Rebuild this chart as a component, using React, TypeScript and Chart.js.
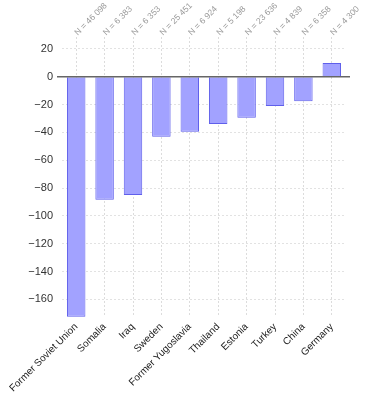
import React, { useEffect, useRef } from "react";
import { Chart, registerables } from "chart.js";

Chart.register(...registerables);

const categories = [
  "Former Soviet Union",
  "Somalia",
  "Iraq",
  "Sweden",
  "Former Yugoslavia",
  "Thailand",
  "Estonia",
  "Turkey",
  "China",
  "Germany",
];
const values = [-172.5, -88.3, -85, -43, -39.5, -34, -29.5, -21, -17.5, 10];
const nLabels = [
  "N = 46 098",
  "N = 6 383",
  "N = 6 353",
  "N = 25 451",
  "N = 6 924",
  "N = 5 198",
  "N = 23 636",
  "N = 4 839",
  "N = 6 358",
  "N = 4 300",
];
const yTicks = [20, 0, -20, -40, -60, -80, -100, -120, -140, -160];

const FONT = "'Liberation Sans', Arial, Helvetica, sans-serif";

const extras = {
  id: "extras",
  afterDatasetsDraw(chart: any) {
    const { ctx, chartArea, scales } = chart;
    const y = scales.y.getPixelForValue(0);
    ctx.save();
    ctx.strokeStyle = "#666";
    ctx.lineWidth = 1.5;
    ctx.beginPath();
    ctx.moveTo(chartArea.left - 5, y);
    ctx.lineTo(chartArea.right + 4, y);
    ctx.stroke();
    ctx.fillStyle = "#999";
    ctx.font = `8.5px ${FONT}`;
    ctx.textAlign = "left";
    ctx.textBaseline = "middle";
    nLabels.forEach((t, i) => {
      const x = scales.x.getPixelForValue(i);
      ctx.save();
      ctx.translate(x, chartArea.top - 3);
      ctx.rotate(-Math.PI / 4);
      ctx.fillText(t, 0, 0);
      ctx.restore();
    });
    ctx.restore();
  },
};

export default function App() {
  const ref = useRef<HTMLCanvasElement>(null);
  useEffect(() => {
    if (!ref.current) return;
    const chart = new Chart(ref.current, {
      type: "bar",
      data: {
        labels: categories,
        datasets: [
          {
            data: values,
            backgroundColor: "rgba(162,162,255,1)",
            borderColor: "rgba(95,95,235,1)",
            borderWidth: 1,
            categoryPercentage: 1,
            barPercentage: 0.65,
          },
        ],
      },
      options: {
        animation: false,
        responsive: false,
        maintainAspectRatio: false,
        layout: { padding: { left: 0, right: 19, top: 37, bottom: 0 } },
        plugins: { legend: { display: false }, tooltip: { enabled: false } },
        scales: {
          x: {
            type: "category",
            position: "bottom",
            grid: {
              offset: false,
              color: "#dcdcdc",
              lineWidth: 1,
              drawTicks: false,
            },
            border: { display: false, dash: [2, 2] },
            ticks: {
              maxRotation: 45,
              minRotation: 45,
              color: "#222",
              padding: 4,
              font: { family: FONT, size: 10 },
              autoSkip: false,
            },
            afterFit(scale: any) {
              scale.height = 83;
            },
          },
          y: {
            min: -172.6,
            max: 28.6,
            afterBuildTicks(scale: any) {
              scale.ticks = yTicks.map((v) => ({ value: v }));
            },
            grid: {
              color: (c: any) => (c.tick && c.tick.value === 0 ? "rgba(0,0,0,0)" : "#e2e2e2"),
              drawTicks: false,
            },
            border: { display: false, dash: [2, 2] },
            ticks: {
              color: "#333",
              padding: 9,
              font: { family: FONT, size: 11 },
              callback: (v: any) => (v < 0 ? "\u2212" + Math.abs(v) : String(v)),
            },
            afterFit(scale: any) {
              scale.width = 62;
            },
          },
        },
      } as any,
      plugins: [extras],
    });
    return () => chart.destroy();
  }, []);
  return (
    <div style={{ position: "fixed", left: 0, top: 0, width: 365, height: 400, background: "#fff" }}>
      <canvas ref={ref} width={365} height={400} style={{ width: 365, height: 400 }} />
    </div>
  );
}
